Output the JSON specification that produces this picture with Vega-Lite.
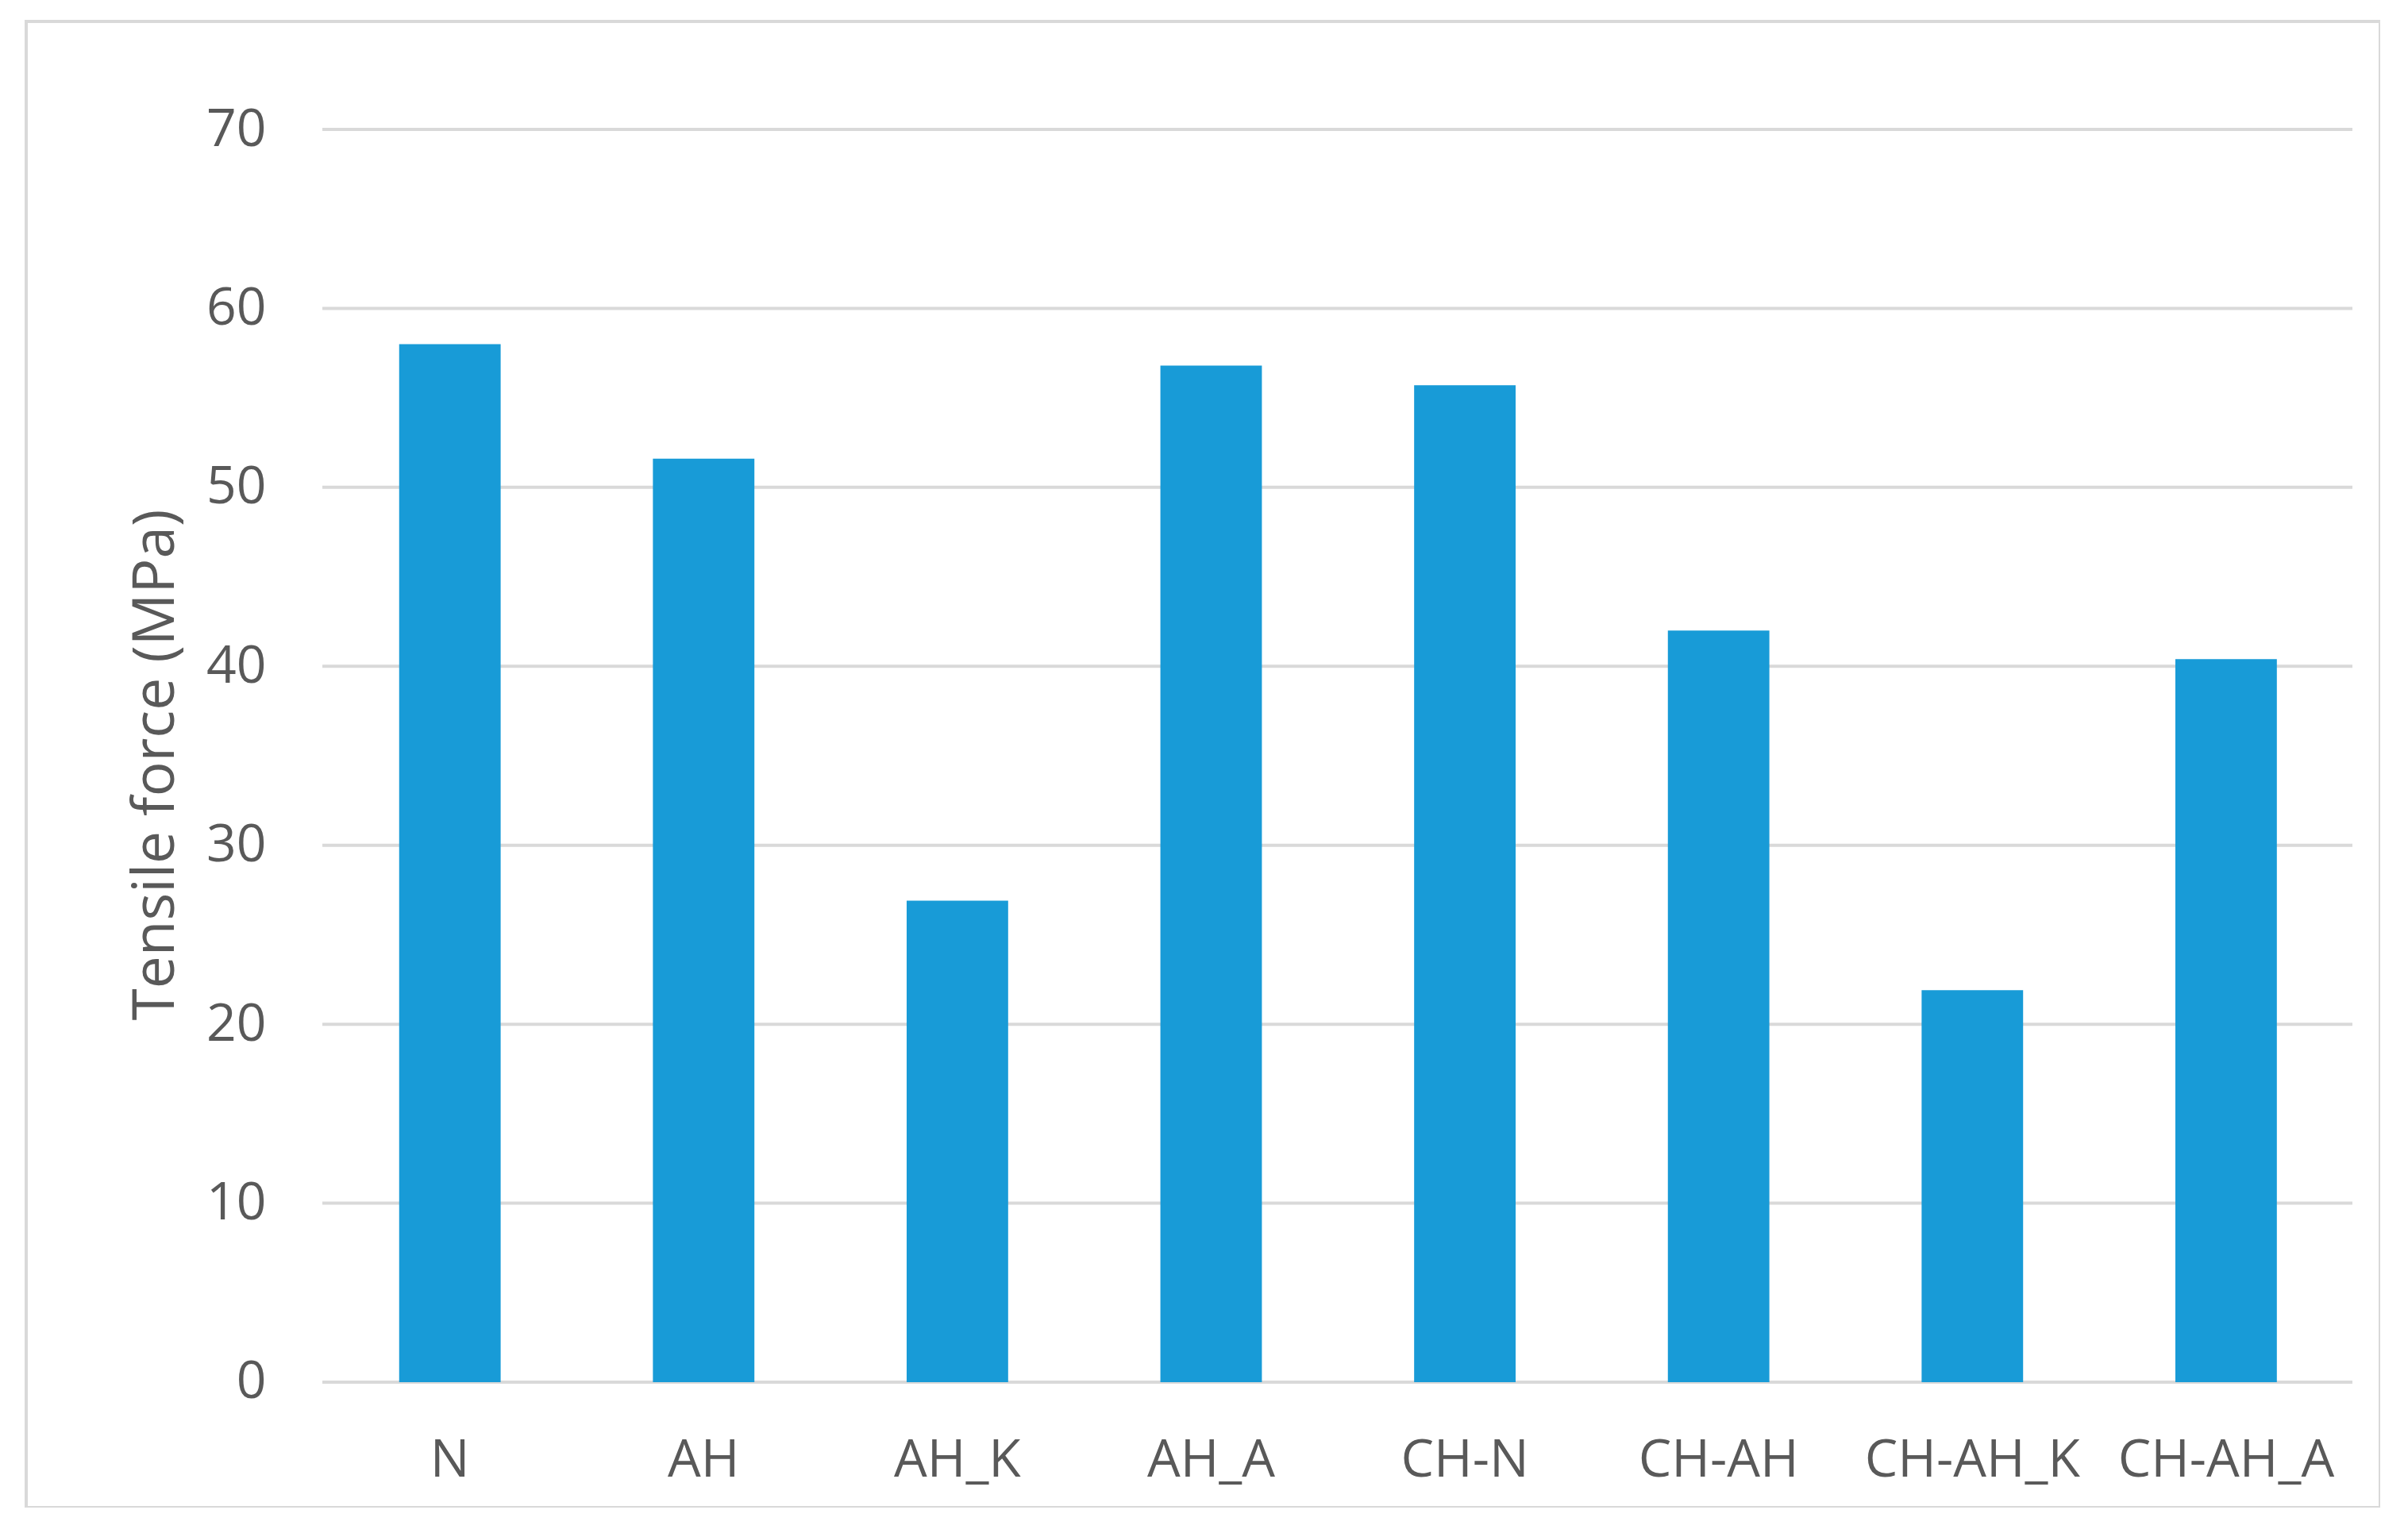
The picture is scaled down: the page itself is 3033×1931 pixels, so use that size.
{
  "$schema": "https://vega.github.io/schema/vega-lite/v6.json",
  "width": 2965,
  "height": 1872,
  "autosize": {"type": "none"},
  "padding": {"left": 33, "top": 27, "right": 0, "bottom": 0},
  "background": "white",
  "config": {
    "view": {"stroke": "#d9d9d9", "strokeWidth": 4},
    "font": "Open Sans"
  },
  "datasets": {
    "bars": [
      {"sample": "N", "tensile": 58.0},
      {"sample": "AH", "tensile": 51.6},
      {"sample": "AH_K", "tensile": 26.9},
      {"sample": "AH_A", "tensile": 56.8},
      {"sample": "CH-N", "tensile": 55.7},
      {"sample": "CH-AH", "tensile": 42.0},
      {"sample": "CH-AH_K", "tensile": 21.9},
      {"sample": "CH-AH_A", "tensile": 40.4}
    ],
    "grid": [
      {"v": 0}, {"v": 10}, {"v": 20}, {"v": 30}, {"v": 40}, {"v": 50}, {"v": 60}, {"v": 70}
    ]
  },
  "resolve": {"scale": {"x": "independent"}, "axis": {"x": "independent"}},
  "layer": [
    {
      "data": {"name": "grid"},
      "mark": {"type": "rule", "color": "#d9d9d9", "strokeWidth": 4},
      "encoding": {
        "x": {"datum": 0, "type": "quantitative", "scale": {"domain": [-0.1459, 1.0137], "nice": false, "zero": false}, "axis": null},
        "x2": {"datum": 1},
        "y": {
          "field": "v", "type": "quantitative",
          "scale": {"domain": [-7.009, 76.033], "nice": false, "zero": false},
          "axis": {
            "orient": "left", "offset": -373, "values": [0, 10, 20, 30, 40, 50, 60, 70],
            "grid": false, "domain": false, "ticks": false, "tickSize": 0,
            "labelPadding": 71, "labelFontSize": 66, "labelColor": "#595959", "labelFont": "Open Sans",
            "title": "Tensile force (MPa)", "titleFontSize": 73, "titleFontWeight": "normal",
            "titleColor": "#595959", "titleFont": "Open Sans", "titlePadding": 26
          }
        }
      }
    },
    {
      "data": {"name": "bars"},
      "mark": {"type": "bar", "color": "#189bd7"},
      "encoding": {
        "x": {
          "field": "sample", "type": "nominal", "sort": null,
          "scale": {
            "domain": ["N", "AH", "AH_K", "AH_A", "CH-N", "CH-AH", "CH-AH_K", "CH-AH_A"],
            "paddingInner": 0.6, "paddingOuter": 0.9386, "align": 0.783
          },
          "axis": {
            "orient": "bottom", "offset": -158, "domain": false, "ticks": false, "tickSize": 0,
            "grid": false, "labelAngle": 0, "labelPadding": 66, "labelFontSize": 66,
            "labelLimit": 1000, "labelOverlap": false,
            "labelColor": "#595959", "labelFont": "Open Sans", "title": null
          }
        },
        "y": {
          "field": "tensile", "type": "quantitative",
          "scale": {"domain": [-7.009, 76.033], "nice": false, "zero": false},
          "axis": {
            "orient": "left", "offset": -373, "values": [0, 10, 20, 30, 40, 50, 60, 70],
            "grid": false, "domain": false, "ticks": false, "tickSize": 0,
            "labelPadding": 71, "labelFontSize": 66, "labelColor": "#595959", "labelFont": "Open Sans",
            "title": "Tensile force (MPa)", "titleFontSize": 73, "titleFontWeight": "normal",
            "titleColor": "#595959", "titleFont": "Open Sans", "titlePadding": 26
          }
        }
      }
    }
  ]
}
